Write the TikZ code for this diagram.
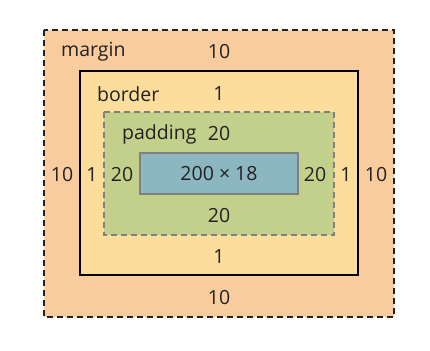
\documentclass[tikz,border=0pt]{standalone}
\usepackage{fontspec}
\setmainfont{Open Sans}
\definecolor{marginc}{HTML}{F9CC9D}
\definecolor{borderc}{HTML}{FDDD9B}
\definecolor{paddingc}{HTML}{C3D08B}
\definecolor{contentc}{HTML}{8CB6C0}
\definecolor{txt}{HTML}{222222}
\begin{document}
\begin{tikzpicture}[x=1pt,y=-1pt,
  lbl/.style={text=txt,font=\fontsize{19.5}{22}\selectfont,inner sep=0pt},
  boxname/.style={lbl,anchor=west},
  box/.style={line width=2pt},
  dsh/.style={dash pattern=on 6pt off 4pt}]
\useasboundingbox (0,0) rectangle (430,350);
\draw[box,dsh,fill=marginc,draw=txt] (44,30) rectangle (394,317);
\draw[box,fill=borderc,draw=black,line width=2.4pt] (80,71) rectangle (358,275);
\draw[box,dsh,fill=paddingc,draw=gray] (104,112) rectangle (334,235);
\node[fill=contentc,draw=gray,minimum width=158pt,minimum height=41pt,inner sep=0pt,line width=2pt,text=txt,font=\fontsize{19.5}{22}\selectfont] (content) at (219,173.5) {200 × 18};
\node[boxname] (mname) at (61,52) {margin};
\node[boxname] (bname) at (97,94) {border};
\node[boxname] (pname) at (122,134) {padding};
\node[lbl] (mt) at (219,52) {10};
\node[lbl] (bt) at (219,94) {1};
\node[lbl] (pt) at (219,134) {20};
\node[lbl] (pb) at (219,216) {20};
\node[lbl] (bb) at (219,257) {1};
\node[lbl] (mb) at (219,298) {10};
\node[lbl] (ml) at (62,175) {10};
\node[lbl] (bl) at (92,175) {1};
\node[lbl] (pl) at (122,175) {20};
\node[lbl] (pr) at (315,175) {20};
\node[lbl] (br) at (346,175) {1};
\node[lbl] (mr) at (376,175) {10};
\end{tikzpicture}
\end{document}
